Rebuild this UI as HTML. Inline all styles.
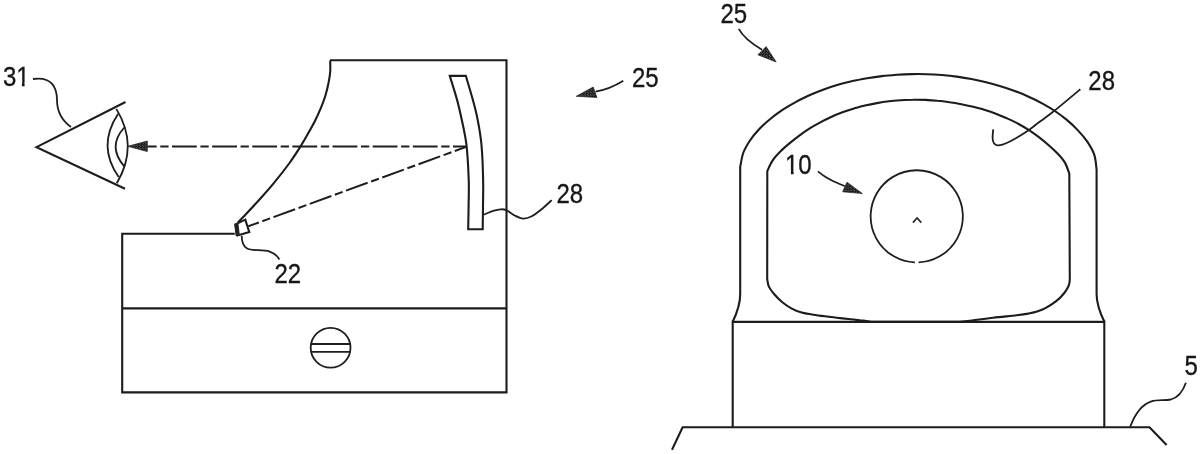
<!DOCTYPE html>
<html>
<head>
<meta charset="utf-8">
<title>Figure</title>
<style>
html,body{margin:0;padding:0;background:#fff;}
body{width:1200px;height:454px;overflow:hidden;}
svg{display:block;will-change:transform;}
text{font-family:"Liberation Sans",sans-serif;font-size:24px;fill:#161616;stroke:#161616;stroke-width:0.3;}
.l{fill:none;stroke:#1c1c1c;stroke-width:2.1;stroke-linecap:butt;stroke-linejoin:miter;}
.t{fill:none;stroke:#1e1e1e;stroke-width:1.8;}
.a{fill:url(#ht);stroke:#222;stroke-width:0.7;}
</style>
</head>
<body>
<svg width="1200" height="454" viewBox="0 0 1200 454">
<rect width="1200" height="454" fill="#fff"/>
<defs>
<pattern id="ht" width="2.8" height="2.8" patternUnits="userSpaceOnUse">
<rect width="2.8" height="2.8" fill="#111"/>
<circle cx="0.7" cy="0.7" r="0.45" fill="#fff"/>
<circle cx="2.1" cy="2.1" r="0.45" fill="#fff"/>
</pattern>
</defs>

<!-- LEFT FIGURE -->
<!-- housing -->
<path class="l" d="M234.8,233.8 L122.2,233.8 L122.2,392.4 L506.5,392.4 L506.5,60.2 L330,60.2"/>
<path class="l" d="M122.2,308.4 L506.5,308.4"/>
<path class="l" d="M330.2,60.4 C330.2,62.3 330.5,68.2 330.2,72.0 C329.9,75.8 329.3,79.0 328.5,83.0 C327.7,87.0 326.5,92.1 325.2,96.3 C323.9,100.5 322.4,104.4 320.7,108.4 C319.0,112.4 317.2,116.5 315.2,120.5 C313.2,124.5 311.0,128.4 308.6,132.6 C306.2,136.8 304.1,140.7 300.9,145.8 C297.7,150.9 294.0,156.8 289.5,163.0 C285.0,169.2 279.1,176.7 274.0,182.9 C268.9,189.2 263.7,194.8 258.6,200.5 C253.5,206.2 246.7,213.3 243.2,217.0 C239.7,220.7 238.7,221.6 237.8,222.5"/>
<!-- emitter -->
<path class="l" d="M235.4,224.4 L245.3,219.6 L249.3,232.1 L237.5,235.4 Z"/>
<path d="M234.3,224.4 L238.3,222.6 L239.8,235 L235.6,236 Z" fill="#222"/>
<!-- mirror -->
<path class="l" d="M449.8,75.9 C451.0,79.9 455.0,92.3 457.0,99.6 C459.0,106.9 460.1,111.9 461.7,119.5 C463.3,127.1 465.3,135.3 466.5,145.2 C467.7,155.1 468.3,169.0 468.7,179.0 C469.1,189.0 468.7,196.6 468.6,205.0 C468.5,213.4 468.3,225.2 468.2,229.3 L482.7,229.3 C482.8,225.2 482.9,213.4 483.0,205.0 C483.1,196.6 483.4,189.0 483.1,179.0 C482.9,169.0 482.4,155.1 481.5,145.2 C480.6,135.3 479.1,127.1 477.6,119.5 C476.2,111.9 474.8,106.9 472.8,99.6 C470.8,92.3 467.0,79.8 465.8,75.8 Z"/>
<!-- rays -->
<path class="t" style="stroke-width:2" d="M147.3,146.5 L467,146.5" stroke-dasharray="24.8 3.6 8.3 3.44" stroke-dashoffset="15.44"/>
<path class="t" style="stroke-width:2" d="M248.3,226.3 L466.9,146.6" stroke-dasharray="23 3.7 8.3 3.6" stroke-dashoffset="11.8"/>
<path class="a" d="M127.7,146.3 L147.3,141 L147.3,151.6 Z"/>
<!-- eye -->
<path class="l" d="M125.5,102 L36.5,147.1 L125,188.7"/>
<path class="t" d="M116.3,108.9 Q139,146 116.8,183.2"/>
<path class="t" d="M118,114 Q96.8,146 118.7,177"/>
<path class="t" d="M124.3,127.5 Q107,146.5 124.3,166.3"/>
<!-- screw -->
<circle class="t" cx="330.6" cy="347.8" r="19.9"/>
<path class="t" d="M311,344 L350.5,344 M311,351.8 L350.5,351.8"/>
<!-- leaders -->
<path class="t" d="M33,79 C52,76 57,88 57,100 C57,114 64,122 71,127"/>
<path class="t" d="M241.7,235.7 C242,262 268,240 279.4,259.5"/>
<path class="t" d="M483.9,214.7 C485.4,214.1 490.3,211.8 493.1,210.9 C495.9,210.0 498.6,209.4 500.8,209.3 C503.0,209.2 503.9,209.1 506.2,210.1 C508.5,211.1 511.9,214.1 514.7,215.5 C517.5,216.9 520.4,218.5 523.2,218.6 C526.0,218.7 528.5,218.0 531.7,216.3 C534.9,214.6 539.2,211.2 542.5,208.5 C545.8,205.8 550.2,201.5 551.7,200.1"/>
<path class="t" d="M623.3,80.8 C615,86 606,90 595.5,91.6"/>
<path class="a" d="M576.2,96.3 L593.2,87 L597,97.5 Z"/>
<text transform="translate(3,86.4) scale(1,1.18)">31</text>
<text transform="translate(274.5,283.4) scale(1,1.18)">22</text>
<text transform="translate(556.5,202.9) scale(1,1.18)">28</text>
<text transform="translate(632,87.4) scale(1,1.18)">25</text>
<path fill="#fff" d="M16.5,82.8 H21.9 V87.5 H16.5 Z M24.6,82.8 H30 V87.5 H24.6 Z"/>

<!-- RIGHT FIGURE -->
<!-- base -->
<path class="l" d="M732.7,427.2 L732.7,321.9 L1104.3,321.9 L1104.3,427.2"/>
<path class="l" d="M672,449.7 L682.6,427.2 L1149.5,427.2 L1166.6,445"/>
<!-- outer arch -->
<path class="l" d="M732.6,322 C736,315 740.2,306 740.2,294 L740.2,167  C740.7,164.6 741.7,157.1 743.4,152.5 C745.2,147.9 747.9,143.6 750.7,139.5 C753.5,135.4 756.9,131.6 760.3,128.0 C763.8,124.4 767.6,121.1 771.5,118.0 C775.3,114.9 779.5,112.0 783.6,109.2 C787.8,106.5 792.1,104.0 796.5,101.6 C800.9,99.2 805.4,97.1 809.9,95.0 C814.4,93.0 819.1,91.2 823.7,89.5 C828.4,87.8 833.1,86.2 837.9,84.8 C842.7,83.5 847.5,82.2 852.4,81.1 C857.3,80.0 862.2,79.1 867.1,78.2 C872.1,77.4 877.0,76.7 882.0,76.1 C887.0,75.5 891.9,75.1 896.9,74.7 C901.9,74.4 906.9,74.2 911.9,74.1 C916.9,74.0 921.9,74.0 926.9,74.2 C931.9,74.3 936.9,74.6 941.8,75.0 C946.8,75.4 951.8,75.9 956.7,76.6 C961.6,77.3 966.6,78.1 971.5,79.0 C976.3,79.9 981.2,81.0 986.1,82.2 C990.9,83.4 995.7,84.7 1000.5,86.2 C1005.3,87.6 1010.0,89.2 1014.7,91.0 C1019.4,92.7 1024.0,94.6 1028.6,96.7 C1033.2,98.7 1037.7,100.9 1042.1,103.3 C1046.5,105.7 1050.8,108.2 1054.9,111.0 C1059.0,113.8 1063.0,116.7 1066.8,119.9 C1070.7,123.1 1074.3,126.5 1077.7,130.1 C1081.1,133.7 1084.5,137.6 1087.3,141.7 C1090.0,145.8 1092.8,150.2 1094.3,154.8 C1095.9,159.5 1096.2,167.1 1096.6,169.6 L1096.6,294 C1096.6,306 1101,315 1104.5,322"/>
<!-- inner window -->
<path class="l" d="M767.3,171.0 C768.2,169.2 770.5,163.7 772.7,160.4 C774.9,157.1 777.8,154.1 780.6,151.3 C783.4,148.4 786.6,145.7 789.7,143.1 C792.9,140.5 796.1,138.0 799.3,135.6 C802.6,133.2 805.9,130.9 809.3,128.7 C812.7,126.5 816.2,124.5 819.8,122.6 C823.3,120.6 826.9,118.9 830.6,117.2 C834.3,115.5 838.0,114.0 841.8,112.6 C845.6,111.2 849.4,109.9 853.3,108.7 C857.1,107.5 861.1,106.5 865.0,105.5 C868.9,104.6 872.9,103.8 876.9,103.1 C880.9,102.4 884.9,101.8 889.0,101.3 C893.0,100.8 897.1,100.5 901.1,100.2 C905.1,100.0 909.2,99.8 913.2,99.8 C917.3,99.7 921.3,99.8 925.4,99.9 C929.4,100.1 933.4,100.4 937.4,100.8 C941.5,101.1 945.5,101.6 949.5,102.2 C953.5,102.7 957.4,103.4 961.4,104.2 C965.4,105.0 969.3,105.8 973.3,106.8 C977.2,107.8 981.1,108.8 985.0,110.0 C988.9,111.2 992.7,112.5 996.5,113.9 C1000.3,115.4 1004.1,116.9 1007.7,118.6 C1011.4,120.2 1015.0,122.0 1018.6,124.0 C1022.1,125.9 1025.6,128.0 1029.0,130.2 C1032.4,132.4 1035.7,134.8 1038.9,137.2 C1042.1,139.7 1045.3,142.3 1048.4,145.0 C1051.4,147.6 1054.5,150.4 1057.3,153.3 C1060.1,156.2 1062.9,159.2 1064.9,162.6 C1066.9,166.0 1068.6,171.8 1069.3,173.6 L1069.8,279  C1069.7,279.7 1069.7,281.7 1069.4,283.0 C1069.1,284.3 1069.1,285.1 1068.2,286.8 C1067.3,288.6 1065.9,291.1 1063.9,293.5 C1061.9,295.9 1059.3,298.8 1056.2,301.2 C1053.1,303.6 1048.7,306.4 1045.4,308.2 C1042.1,310.0 1039.0,310.9 1036.2,311.8 C1033.4,312.7 1031.7,313.0 1028.4,313.6 C1025.2,314.2 1022.6,314.6 1016.7,315.3 C1010.9,316.0 1000.8,316.8 993.3,317.7 C985.8,318.6 977.5,319.8 972.0,320.5 C966.5,321.2 962.0,321.5 960.0,321.7 L871,321.7  C869.2,321.5 863.8,320.8 860.0,320.4 C856.2,319.9 852.2,319.4 848.3,319.0 C844.4,318.6 840.6,318.2 836.7,317.8 C832.8,317.4 828.9,316.8 825.0,316.3 C821.1,315.8 817.2,315.3 813.3,314.7 C809.4,314.1 805.4,313.7 801.7,312.6 C798.0,311.5 794.6,310.1 791.3,308.3 C788.0,306.5 784.8,304.3 782.0,302.0 C779.2,299.7 776.5,296.9 774.3,294.3 C772.1,291.7 770.1,289.2 768.9,286.6 C767.7,284.1 767.5,280.3 767.2,279.0 Z"/>
<!-- reticle -->
<path class="t" d="M918.6,262.4 A46.1,46.1 0 1 0 914.9,262.4"/>
<path d="M912.9,222.6 L917.1,217.9 L921.3,222.6" fill="none" stroke="#222" stroke-width="1.6"/>
<!-- leaders -->
<path class="t" d="M738.8,28.9 C742,35 749,42 762,49.8"/>
<path class="a" d="M776.2,62 L757.9,54.8 L766.1,46.6 Z"/>
<path class="t" d="M817.9,171.4 C819.1,172.3 822.5,175.0 825.2,176.7 C828.0,178.4 831.1,180.1 834.4,181.7 C837.7,183.3 843.2,185.4 845.0,186.2"/>
<path class="a" d="M862.4,193.6 L842.6,191.8 L847,182.2 Z"/>
<path class="t" d="M1080.3,89.3 C1076.0,92.9 1061.1,105.4 1054.4,110.8 C1047.7,116.2 1044.2,118.3 1040.0,121.5 C1035.8,124.7 1032.3,127.7 1028.9,130.1 C1025.5,132.5 1022.7,134.2 1019.6,136.1 C1016.5,138.0 1013.2,139.9 1010.4,141.3 C1007.5,142.7 1004.7,143.9 1002.5,144.6 C1000.3,145.3 998.6,145.5 997.2,145.3 C995.8,145.1 994.7,144.5 993.9,143.3 C993.1,142.1 992.7,140.3 992.6,138.0 C992.5,135.7 993.1,130.8 993.2,129.4"/>
<path class="t" d="M1130.2,426.7 C1135,414 1141,405 1150.8,401.6 C1158,399 1164,401 1170.9,399.5 C1178,397.5 1183,391 1185.9,382.7"/>
<text transform="translate(720.5,22.9) scale(1,1.18)">25</text>
<text transform="translate(785,173.9) scale(1,1.18)">10</text>
<text transform="translate(1088.3,89.7) scale(1,1.18)">28</text>
<text transform="translate(1184.6,374.9) scale(1,1.18)">5</text>
<path fill="#fff" d="M785,170.7 H790.9 V175.5 H785 Z M793.6,170.7 H799 V175.5 H793.6 Z"/>
</svg>
</body>
</html>
